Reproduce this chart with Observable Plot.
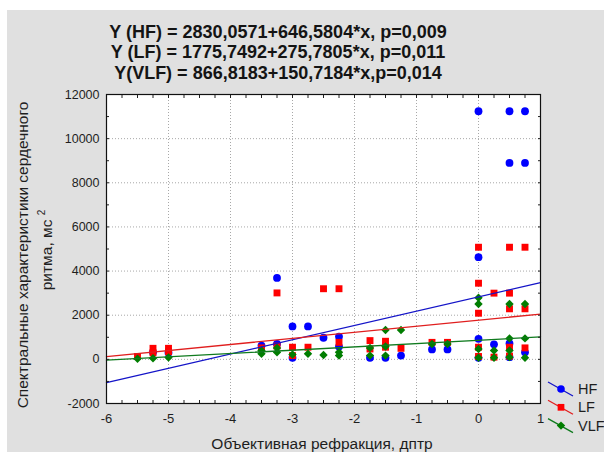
<!DOCTYPE html>
<html>
<head>
<meta charset="utf-8">
<script src="https://cdn.jsdelivr.net/npm/d3@7"></script>
<script src="https://cdn.jsdelivr.net/npm/@observablehq/plot@0.6"></script>
<style>
  html, body { margin: 0; padding: 0; background: #fff; width: 604px; height: 452px; overflow: hidden;
    font-family: "Liberation Sans", Arial, sans-serif; }
  #panel { position: absolute; left: 7px; top: 10px; width: 597px; height: 442px; background: #e0e0e0; }
  #chart { position: absolute; left: 0; top: 0; }
  .title { position: absolute; left: 278px; transform: translateX(-50%); white-space: nowrap;
    font-weight: bold; font-size: 18px; line-height: 18px; color: #141414; }
  .ylab { position: absolute; white-space: nowrap; font-size: 15.5px; line-height: 16px; color: #1e1e1e;
    transform: translate(-50%, -50%) rotate(-90deg); }
  .ylab sup { font-size: 10px; vertical-align: 7px; line-height: 0; }
  .xlab { position: absolute; left: 322px; top: 436px; transform: translateX(-50%); white-space: nowrap;
    font-size: 15.5px; line-height: 16px; color: #1e1e1e; }
  #legend { position: absolute; left: 0; top: 0; }
</style>
</head>
<body>
<div id="panel"></div>
<div id="chart"></div>
<div class="title" style="top:23px">Y (HF) = 2830,0571+646,5804*x, p=0,009</div>
<div class="title" style="top:43px">Y (LF) = 1775,7492+275,7805*x, p=0,011</div>
<div class="title" style="top:64px">Y(VLF) = 866,8183+150,7184*x,p=0,014</div>
<div class="ylab" style="left:23px; top:255px">Спектральные характеристики сердечного</div>
<div class="ylab" style="left:47px; top:250px">ритма, мс <sup>2</sup></div>
<div class="xlab">Объективная рефракция, дптр</div>
<script>
// ---- data ----
const seriesNames = ["HF", "LF", "VLF"];
const seriesColors = ["#0000ff", "#ff0000", "#007d00"];
const lineColors = ["#1414c8", "#e01e1e", "#0f7a1e"];
const seriesSymbols = ["circle", "square", "diamond2"];

const xHF = [-5.25, -5, -3.5, -3.25, -3.25, -3, -3, -2.75, -2.5, -2.25, -2.25, -1.75, -1.5, -1.25, -0.75, -0.5,
  0, 0, 0, 0, 0.25, 0.5, 0.5, 0.5, 0.5, 0.75, 0.75, 0.75];
const yHF = [320, 300, 625, 3690, 700, 1490, 70, 1490, 980, 1030, 580, 70, 70, 170, 450, 450,
  11240, 4630, 930, 70, 680, 11240, 8900, 720, 100, 11240, 8900, 320];

const xLF = [-5.5, -5.25, -5.25, -5, -5, -3.5, -3.25, -3.25, -3, -3, -2.75, -2.5, -2.25, -2.25, -1.75, -1.75,
  -1.5, -1.5, -1.25, -0.75, -0.5, 0, 0, 0, 0, 0, 0.25, 0.25, 0.5, 0.5, 0.5, 0.5, 0.5, 0.75, 0.75, 0.75];
const yLF = [130, 500, 300, 500, 350, 520, 3010, 600, 550, 170, 550, 3200, 3200, 770, 850, 470,
  820, 550, 500, 770, 770, 5080, 3450, 2090, 550, 130, 3000, 100, 5080, 3000, 2290, 550, 150, 5080, 2290, 520];

const xVLF = [-5.5, -5.25, -5, -3.5, -3.5, -3.25, -3.25, -3, -2.75, -2.5, -2.25, -2.25, -1.75, -1.75,
  -1.5, -1.5, -1.5, -1.25, -0.75, -0.5, 0, 0, 0, 0, 0.25, 0.25, 0.5, 0.5, 0.5, 0.5, 0.75, 0.75, 0.75];
const yVLF = [30, 50, 80, 400, 250, 520, 320, 220, 250, 200, 320, 170, 520, 170,
  1330, 580, 170, 1330, 700, 700, 2790, 2510, 470, 70, 400, 70, 2510, 950, 400, 100, 2510, 950, 70];

// regression coefficients (from the title)
const intercepts = [2830.0571, 1775.7492, 866.8183];
const slopes = [646.5804, 275.7805, 150.7184];

const xTickLabels = [-6, -5, -4, -3, -2, -1, 0, 1];
const yTickLabels = [-2000, 0, 2000, 4000, 6000, 8000, 10000, 12000];
const xDomain = [-6, 1];
const yDomain = [-2000, 12000];

// ---- build tables ----
const xs = [xHF, xLF, xVLF];
const ys = [yHF, yLF, yVLF];
const points = [];
xs.forEach((xa, i) => xa.forEach((x, j) => points.push({x, y: ys[i][j], s: i})));
const fitLines = [];
seriesNames.forEach((n, i) => xDomain.forEach(x => fitLines.push({x, y: intercepts[i] + slopes[i] * x, s: i})));

const minorX = d3.range(-6, 1.0001, 0.25);
const minorY = d3.range(-2000, 12001, 1000);

const marks = [
  Plot.frame({fill: "white", stroke: null}),
  Plot.gridX(xTickLabels.slice(1, -1), {stroke: "#a8a8a8", strokeOpacity: 1, strokeDasharray: "1,2"}),
  Plot.gridY(yTickLabels.slice(1, -1), {stroke: "#a8a8a8", strokeOpacity: 1, strokeDasharray: "1,2"}),
];
seriesNames.forEach((n, i) => {
  marks.push(Plot.dot(points.filter(d => d.s === i), {x: "x", y: "y", symbol: seriesSymbols[i],
    r: i === 2 ? 3.8 : 3.9, fill: seriesColors[i], stroke: "none"}));
});
seriesNames.forEach((n, i) => {
  marks.push(Plot.line(fitLines.filter(d => d.s === i), {x: "x", y: "y", stroke: lineColors[i], strokeWidth: 1.3}));
});
marks.push(
  Plot.axisX(xTickLabels, {anchor: "bottom", tickSize: 0, tickPadding: 10, tickFormat: d => String(d), label: null, fontSize: 13, fill: "#1e1e1e"}),
  Plot.axisY(yTickLabels, {anchor: "left", tickSize: 0, tickPadding: 7, tickFormat: d => String(d), label: null, fontSize: 12.5, fill: "#1e1e1e"}),
  Plot.axisX(minorX, {anchor: "bottom", tickSize: -3, fill: "none", stroke: "#222"}),
  Plot.axisX(minorX, {anchor: "top", tickSize: -3, fill: "none", stroke: "#222"}),
  Plot.axisY(minorY, {anchor: "left", tickSize: -3, fill: "none", stroke: "#222"}),
  Plot.axisY(minorY, {anchor: "right", tickSize: -3, fill: "none", stroke: "#222"}),
  Plot.frame({stroke: "#111", strokeWidth: 1.2})
);

const chart = Plot.plot({
  width: 604, height: 452,
  marginLeft: 106, marginRight: 64, marginTop: 94, marginBottom: 49,
  style: {background: "transparent", fontFamily: "'Liberation Sans', Arial, sans-serif", fontSize: "12.5px", color: "#1e1e1e"},
  x: {domain: xDomain, label: null},
  y: {domain: yDomain, label: null},
  marks
});
document.getElementById("chart").appendChild(chart);

// ---- legend (outside plot, bottom right) ----
const leg = d3.select("body").append("svg").attr("id", "legend").attr("width", 604).attr("height", 452);
seriesNames.forEach((n, i) => {
  const y0 = 382 + i * 18.3;
  const g = leg.append("g");
  g.append("line").attr("x1", 548).attr("y1", y0).attr("x2", 573).attr("y2", y0 + 14)
    .attr("stroke", lineColors[i]).attr("stroke-width", 1.3);
  const sym = [d3.symbolCircle, d3.symbolSquare, d3.symbolDiamond2][i];
  g.append("path").attr("d", d3.symbol(sym, Math.PI * 3.8 * 3.8)())
    .attr("transform", `translate(561,${y0 + 7})`).attr("fill", seriesColors[i]);
  g.append("text").attr("x", 578).attr("y", y0 + 12).text(n)
    .attr("font-family", "'Liberation Sans', Arial, sans-serif").attr("font-size", 14.5).attr("fill", "#1e1e1e");
});
</script>
</body>
</html>
